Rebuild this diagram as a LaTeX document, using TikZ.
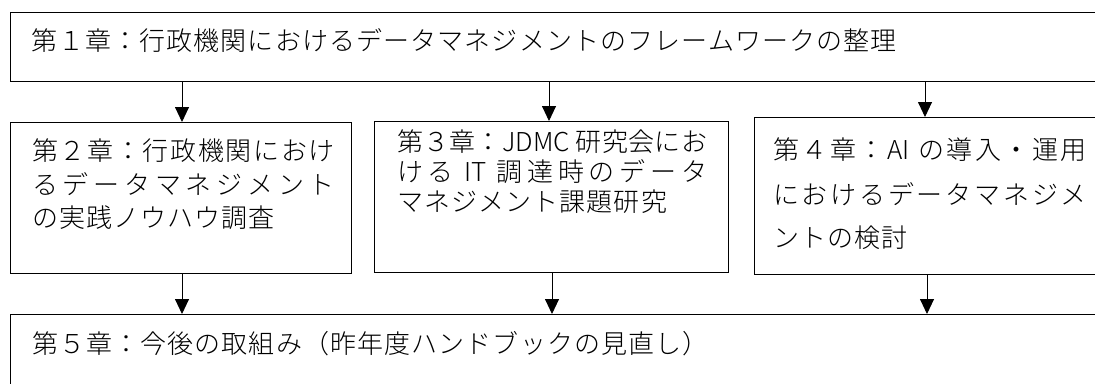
\documentclass[tikz,border=0pt]{standalone}
\usepackage{fontspec}
\IfFontExistsTF{Noto Sans CJK JP Light}{%
  \newfontfamily\jp[LetterSpace=4.3]{Noto Sans CJK JP Light}%
  \newfontfamily\jpj{Noto Sans CJK JP Light}%
}{%
  \newfontfamily\jp[LetterSpace=4.3]{Noto Sans CJK JP}%
  \newfontfamily\jpj{Noto Sans CJK JP}%
}
\usetikzlibrary{arrows.meta}
\ExplSyntaxOn
\NewDocumentCommand\justline{mm}{\hbox~to~#1{\tl_map_inline:nn{#2}{##1\hfil}\unskip}}
\ExplSyntaxOff
\begin{document}
\begin{tikzpicture}[x=1pt,y=-1pt,
  box/.style={draw=black, line width=0.9pt, rectangle, inner sep=0pt, outer sep=0pt, anchor=north west},
  txt/.style={inner sep=0pt, outer sep=0pt, anchor=base west, font=\jp\fontsize{26}{30}\selectfont},
  jtxt/.style={inner sep=0pt, outer sep=0pt, anchor=base west, font=\jpj\fontsize{26}{30}\selectfont},
  arr/.style={draw=black, line width=0.9pt, -{Triangle[length=15pt,width=14pt]}}]
\useasboundingbox (0,0) rectangle (1095,383);
\clip (0,0) rectangle (1095,383);
% boxes
\node[box, minimum width=1090pt, minimum height=69pt] (b1) at (10,12) {};
\node[box, minimum width=341pt, minimum height=151pt] (b2) at (10,122) {};
\node[box, minimum width=354pt, minimum height=151pt] (b3) at (374,121) {};
\node[box, minimum width=346pt, minimum height=157pt] (b4) at (754,117) {};
\node[box, minimum width=1090pt, minimum height=100pt] (b5) at (10,314) {};
% texts
\node[txt] (t1) at (31,50) {第１章：行政機関におけるデータマネジメントのフレームワークの整理};
\node[jtxt] (t2a) at (32,160) {\justline{303pt}{第２章：行政機関におけ}};
\node[jtxt] (t2b) at (32,194) {\justline{303pt}{るデータマネジメント}};
\node[txt] (t2c) at (32,227) {の実践ノウハウ調査};
\node[jtxt] (t3a) at (397,151) {\justline{310pt}{第３章：{JDMC }研究会にお}};
\node[jtxt] (t3b) at (397,181) {\justline{310pt}{ける{ IT }調達時のデータ}};
\node[txt] (t3c) at (397,211) {マネジメント課題研究};
\node[jtxt] (t4a) at (773,159) {\justline{314pt}{第４章：{AI }の導入・運用}};
\node[jtxt] (t4b) at (773,204) {\justline{314pt}{におけるデータマネジメ}};
\node[txt] (t4c) at (773,247) {ントの検討};
\node[txt] (t5) at (32,353) {第５章：今後の取組み（昨年度ハンドブックの見直し）};
% arrow columns
\coordinate (c1) at (182,0);
\coordinate (c2) at (549,0);
\coordinate (c3) at (925,0);
\coordinate (d1) at (182,0);
\coordinate (d2) at (552,0);
\coordinate (d3) at (927,0);
\draw[arr] (b1.south -| c1) -- (b2.north -| c1);
\draw[arr] (b1.south -| c2) -- (b3.north -| c2);
\draw[arr] (b1.south -| c3) -- (b4.north -| c3);
\draw[arr] (b2.south -| d1) -- (b5.north -| d1);
\draw[arr] (b3.south -| d2) -- (b5.north -| d2);
\draw[arr] (b4.south -| d3) -- (b5.north -| d3);
\end{tikzpicture}
\end{document}
